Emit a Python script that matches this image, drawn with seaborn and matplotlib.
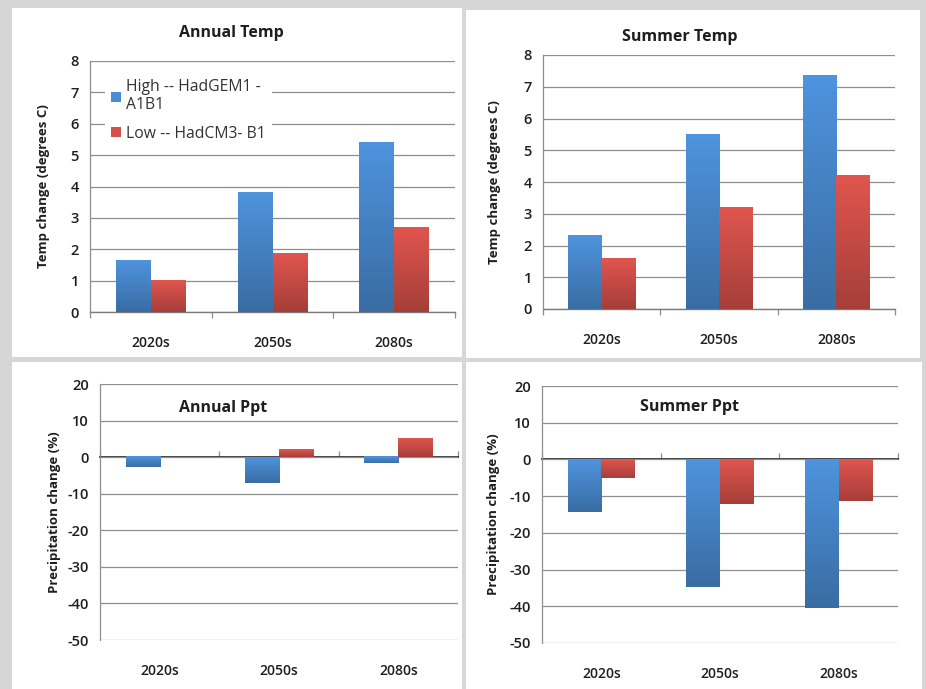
import numpy as np
import pandas as pd
import matplotlib
matplotlib.use("Agg")
import matplotlib.pyplot as plt
from matplotlib.patches import Rectangle
from matplotlib.colors import to_rgb
import seaborn as sns

# data
periods = ["2020s", "2050s", "2080s"]
scenarios = ["High -- HadGEM1 -\nA1B1", "Low -- HadCM3- B1"]

annual_temp_high = [1.65, 3.8, 5.4]
annual_temp_low = [1.0, 1.87, 2.7]
summer_temp_high = [2.3, 5.5, 7.35]
summer_temp_low = [1.6, 3.2, 4.2]
annual_ppt_high = [-2.8, -7.0, -1.7]
annual_ppt_low = [0.0, 2.0, 5.0]
summer_ppt_high = [-14.2, -34.8, -40.5]
summer_ppt_low = [-5.0, -12.2, -11.2]

temp_ticks = list(range(0, 9))
ppt_ticks = list(range(-50, 21, 10))

blue = "#4a8bd1"
red = "#d4504a"
grid_c = "#8e8e8e"
text_c = "#1e1e1e"


def long_df(high, low):
    return pd.DataFrame({
        "period": periods * 2,
        "value": high + low,
        "scenario": [scenarios[0]] * 3 + [scenarios[1]] * 3,
    })


def shade_bars(ax):
    # excel style vertical gradient: lighter at top, darker at bottom
    for p in list(ax.patches):
        w, h = p.get_width(), p.get_height()
        if w == 0 or h == 0:
            continue
        x0, y0 = p.get_xy()
        c = np.array(to_rgb(p.get_facecolor()))
        top = np.clip(c * 1.06, 0, 1)
        bot = c * 0.78
        t = np.linspace(0, 1, 64)[:, None]
        grad = (top[None, :] * (1 - t) + bot[None, :] * t)[:, None, :]
        ax.imshow(grad, extent=[x0, x0 + w, min(y0, y0 + h), max(y0, y0 + h)],
                  aspect="auto", origin="upper", zorder=3, interpolation="bilinear")
        p.set_visible(False)


sns.set_theme(style="white")
plt.rcParams["font.family"] = ["Open Sans", "DejaVu Sans"]
plt.rcParams["axes.unicode_minus"] = False

W, H = 926, 689
fig = plt.figure(figsize=(W / 100, H / 100), dpi=100)
fig.patch.set_facecolor("#d6d6d6")


def px_rect(x0, y0, x1, y1):
    fig.patches.append(Rectangle((x0 / W, 1 - y1 / H), (x1 - x0) / W, (y1 - y0) / H,
                                 transform=fig.transFigure, facecolor="white",
                                 edgecolor="none", zorder=-10))


# white panels of the screenshot
px_rect(12, 8, 462, 357)
px_rect(466, 10, 920, 358)
px_rect(12, 362, 462, 689)
px_rect(466, 362, 922, 689)


def px_axes(x0, y0, x1, y1):
    return fig.add_axes([x0 / W, 1 - y1 / H, (x1 - x0) / W, (y1 - y0) / H])


panels = [
    (px_axes(90, 61, 455, 312), annual_temp_high, annual_temp_low, temp_ticks,
     "Temp change (degrees C)", "Annual Temp", (231, 33)),
    (px_axes(543, 55, 895, 309), summer_temp_high, summer_temp_low, temp_ticks,
     "Temp change (degrees C)", "Summer Temp", (680, 37)),
    (px_axes(100, 384, 458, 640), annual_ppt_high, annual_ppt_low, ppt_ticks,
     "Precipitation change (%)", "Annual Ppt", (223, 408)),
    (px_axes(542, 386, 898, 643), summer_ppt_high, summer_ppt_low, ppt_ticks,
     "Precipitation change (%)", "Summer Ppt", (689, 407)),
]

for i, (ax, high, low, yt, ylab, title, tpos) in enumerate(panels):
    df = long_df(high, low)
    sns.barplot(data=df, x="period", y="value", hue="scenario",
                palette=[blue, red], width=0.57, saturation=1,
                edgecolor="none", ax=ax, zorder=3)
    shade_bars(ax)
    ax.set_facecolor("none")
    ax.set_xlim(-0.5, len(periods) - 0.5)
    ax.set_ylim(yt[0], yt[-1])
    ax.set_yticks(yt)
    ax.grid(axis="y", color=grid_c, lw=0.9, zorder=0)
    ax.grid(axis="x", visible=False)
    for s in ["top", "right", "bottom"]:
        ax.spines[s].set_visible(False)
    ax.spines["left"].set_color(grid_c)
    ax.spines["left"].set_linewidth(0.9)
    ax.tick_params(axis="y", length=4, color=grid_c, width=0.9, pad=4,
                   labelsize=10.5, labelcolor=text_c)
    ax.tick_params(axis="x", length=0, pad=17, labelsize=10, labelcolor=text_c)
    for lb in ax.get_xticklabels() + ax.get_yticklabels():
        lb.set_fontweight("semibold")
    ax.set_xlabel("")
    ax.set_ylabel(ylab, fontsize=9.5, fontweight="bold", color=text_c)
    ax.yaxis.set_label_coords(-0.11 if i % 2 == 0 else -0.118, 0.5)

    # category axis line at zero with boundary ticks
    zero_loc = (0 - yt[0]) / (yt[-1] - yt[0])
    sec = ax.secondary_xaxis(zero_loc)
    sec.set_xticks(np.arange(len(periods) + 1) - 0.5)
    sec.set_xticklabels([])
    sec.tick_params(length=4, color=grid_c, width=0.9, direction="out")
    sec.spines["bottom"].set_color("#7a7a7a")
    sec.spines["bottom"].set_linewidth(1.0)

    fig.text(tpos[0] / W, 1 - tpos[1] / H, title, ha="center", va="center",
             fontsize=11.5, fontweight="bold", color=text_c)

    if i == 0:
        handles, labels = ax.get_legend_handles_labels()
        ax.legend(handles, labels, loc="upper left", bbox_to_anchor=(0.02, 0.985),
                  frameon=True, facecolor="white", edgecolor="none", framealpha=1,
                  fontsize=11.3, handlelength=0.6, handleheight=0.6,
                  handletextpad=0.3, labelspacing=0.8, borderpad=0.4,
                  labelcolor="#333333")
    else:
        ax.legend_.remove()

fig.savefig("out.png", dpi=100, facecolor=fig.get_facecolor())
